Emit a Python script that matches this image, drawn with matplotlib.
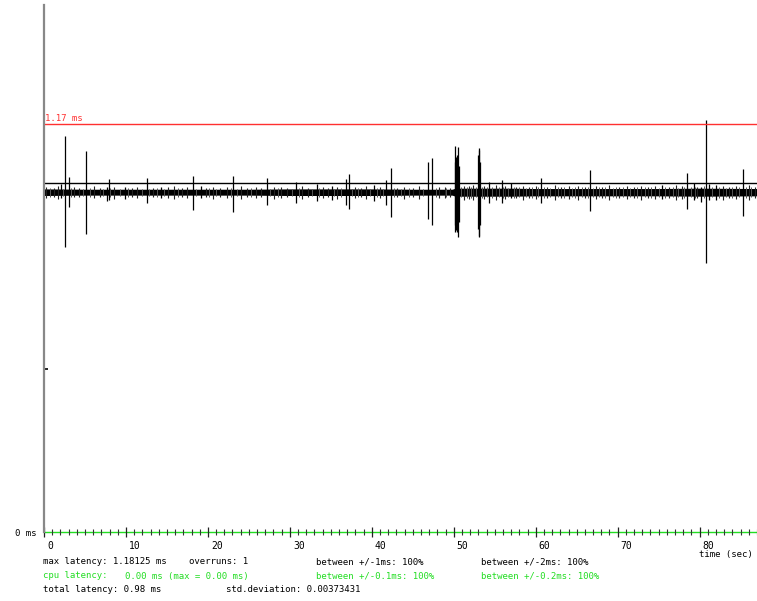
import matplotlib
matplotlib.use("Agg")
import matplotlib.pyplot as plt
import matplotlib.transforms as mtransforms

# latency trace, times in seconds, latencies in ms
band_t = [0, 5, 10, 15, 20, 25, 30, 35, 40, 45, 49.8, 50.2, 57, 60, 65, 70, 75, 80, 87]
band_hi = [0.984, 0.983, 0.983, 0.983, 0.983, 0.983, 0.984, 0.984, 0.984, 0.983,
           0.983, 0.986, 0.986, 0.985, 0.985, 0.985, 0.985, 0.986, 0.985]
band_lo = [0.965, 0.966, 0.966, 0.966, 0.966, 0.966, 0.965, 0.965, 0.965, 0.966,
           0.966, 0.963, 0.963, 0.964, 0.964, 0.964, 0.964, 0.963, 0.964]

# short excursions around the baseline
hair_t = [0.3, 1.2, 1.7, 3.6, 4.3, 6.1, 6.8, 8.6, 10.7, 11.4, 13.3, 15.1, 15.9,
          16.8, 17.4, 19.8, 20.6, 21.5, 22.3, 24.0, 24.8, 25.9, 26.5, 28.1,
          28.9, 29.6, 31.5, 32.2, 34.0, 34.6, 35.8, 37.9, 38.7, 39.3, 41.0,
          43.1, 43.9, 45.0, 45.8, 48.2, 48.9, 49.5, 51.3, 51.9, 52.4, 53.7,
          55.1, 56.3, 57.6, 58.4, 59.2, 60.0, 61.4, 62.3, 63.1, 64.0, 65.2,
          66.0, 67.3, 68.1, 69.0, 70.2, 71.1, 72.0, 72.9, 73.7, 74.6, 76.3,
          77.1, 77.8, 79.7, 82.8, 83.6, 84.4, 86.0, 86.7]
hair_hi = [0.990, 0.987, 0.992, 0.988, 0.986, 0.991, 0.987, 0.989, 0.986, 0.990,
           0.987, 0.988, 0.992, 0.986, 0.989, 0.987, 0.990, 0.986, 0.988, 0.991,
           0.987, 0.989, 0.986, 0.990, 0.988, 0.987, 0.991, 0.986, 0.989, 0.987,
           0.990, 0.988, 0.986, 0.991, 0.988, 0.987, 0.990, 0.986, 0.992, 0.988,
           0.990, 0.987, 0.993, 0.991, 0.994, 0.992, 0.995, 0.991, 0.990, 0.993,
           0.989, 0.992, 0.990, 0.994, 0.989, 0.991, 0.993, 0.990, 0.992, 0.989,
           0.994, 0.990, 0.992, 0.989, 0.993, 0.990, 0.992, 0.989, 0.994, 0.991,
           0.990, 0.993, 0.989, 0.992, 0.994, 0.990]
hair_lo = [0.958, 0.961, 0.955, 0.960, 0.962, 0.957, 0.960, 0.956, 0.961, 0.958,
           0.960, 0.957, 0.955, 0.961, 0.958, 0.960, 0.956, 0.962, 0.959, 0.955,
           0.960, 0.957, 0.961, 0.956, 0.959, 0.960, 0.955, 0.961, 0.957, 0.960,
           0.956, 0.959, 0.961, 0.955, 0.958, 0.960, 0.956, 0.961, 0.954, 0.958,
           0.957, 0.960, 0.953, 0.956, 0.952, 0.955, 0.951, 0.956, 0.957, 0.953,
           0.958, 0.955, 0.957, 0.952, 0.958, 0.956, 0.953, 0.957, 0.954, 0.958,
           0.952, 0.957, 0.955, 0.958, 0.953, 0.957, 0.955, 0.958, 0.952, 0.956,
           0.957, 0.953, 0.958, 0.955, 0.952, 0.957]

# finer jitter, drawn lighter
fuzz_t = [0.7, 2.3, 3.3, 4.8, 5.6, 7.2, 8.1, 9.3, 10.2, 11.9, 12.8, 13.8, 14.7,
          16.3, 18.6, 20.1, 21.0, 22.8, 23.5, 25.3, 27.6, 28.5, 30.3, 31.1,
          32.7, 33.6, 35.4, 36.3, 37.6, 38.3, 39.8, 40.6, 41.4, 42.7, 43.5,
          44.5, 46.3, 47.8, 49.1, 50.9, 51.6, 52.1, 52.7, 53.5, 54.0, 54.7,
          55.5, 56.0, 56.6, 57.3, 58.0, 58.8, 59.6, 60.3, 61.0, 61.8, 62.7,
          63.5, 64.4, 64.8, 65.6, 66.4, 67.0, 67.7, 68.5, 69.4, 69.8, 70.6,
          71.5, 72.4, 73.3, 74.1, 75.0, 75.8, 76.7, 77.4, 78.1, 78.9, 79.4,
          80.5, 81.5, 82.4, 83.2, 84.0, 84.8, 85.6, 86.3]
fuzz_hi = [0.986, 0.985, 0.987, 0.985, 0.986, 0.984, 0.986, 0.985, 0.987, 0.985,
           0.984, 0.986, 0.985, 0.987, 0.985, 0.986, 0.984, 0.986, 0.985, 0.987,
           0.985, 0.986, 0.984, 0.986, 0.985, 0.987, 0.985, 0.986, 0.984, 0.986,
           0.985, 0.987, 0.985, 0.986, 0.984, 0.986, 0.985, 0.987, 0.986, 0.988,
           0.990, 0.989, 0.988, 0.990, 0.988, 0.989, 0.988, 0.990, 0.987, 0.989,
           0.988, 0.987, 0.989, 0.988, 0.990, 0.987, 0.988, 0.989, 0.987, 0.990,
           0.988, 0.989, 0.987, 0.988, 0.990, 0.987, 0.989, 0.988, 0.987, 0.989,
           0.988, 0.990, 0.987, 0.989, 0.988, 0.987, 0.990, 0.988, 0.989, 0.991,
           0.988, 0.989, 0.987, 0.990, 0.988, 0.989, 0.988]
fuzz_lo = [0.962, 0.963, 0.961, 0.963, 0.962, 0.964, 0.962, 0.963, 0.961, 0.963,
           0.964, 0.962, 0.963, 0.961, 0.963, 0.962, 0.964, 0.962, 0.963, 0.961,
           0.963, 0.962, 0.964, 0.962, 0.963, 0.961, 0.963, 0.962, 0.964, 0.962,
           0.963, 0.961, 0.963, 0.962, 0.964, 0.962, 0.963, 0.961, 0.962, 0.960,
           0.958, 0.959, 0.960, 0.958, 0.960, 0.959, 0.960, 0.958, 0.961, 0.959,
           0.960, 0.961, 0.959, 0.960, 0.958, 0.961, 0.960, 0.959, 0.961, 0.958,
           0.960, 0.959, 0.961, 0.960, 0.958, 0.961, 0.959, 0.960, 0.961, 0.959,
           0.960, 0.958, 0.961, 0.959, 0.960, 0.961, 0.958, 0.960, 0.959, 0.957,
           0.960, 0.959, 0.961, 0.958, 0.960, 0.959, 0.960]

# larger latency spikes
spike_t = [2.04, 2.56, 3.01, 5.09, 7.65, 7.93, 9.88, 12.52, 14.27, 18.13, 19.15,
           23.09, 27.23, 30.77, 33.33, 35.16, 36.83, 37.23, 40.24, 41.79, 42.32,
           46.91, 47.35, 50.15, 50.21, 50.28, 50.35, 50.42, 50.52, 50.58,
           52.98, 53.05, 53.12, 53.2, 54.35, 55.94, 56.99, 60.6, 66.59, 75.45,
           78.45, 79.27, 80.2, 80.82, 81.13, 82.04, 85.24]
spike_hi = [0.998, 1.136, 1.019, 1.093, 0.990, 1.013, 0.988, 1.016, 0.990, 1.021,
            0.993, 1.022, 1.016, 1.004, 0.998, 0.993, 1.013, 1.027, 0.996, 1.010,
            1.045, 1.061, 1.072, 1.060, 1.107, 1.076, 1.070, 1.080, 1.103, 1.050,
            1.080, 1.100, 1.095, 1.060, 1.005, 1.009, 1.001, 1.016, 1.038, 0.996,
            1.030, 1.001, 0.990, 1.18125, 0.998, 0.995, 1.041]
spike_lo = [0.958, 0.817, 0.932, 0.855, 0.950, 0.951, 0.955, 0.943, 0.958, 0.923,
            0.958, 0.917, 0.937, 0.944, 0.949, 0.952, 0.939, 0.925, 0.950, 0.938,
            0.904, 0.897, 0.881, 0.880, 0.861, 0.866, 0.870, 0.860, 0.845, 0.890,
            0.870, 0.848, 0.847, 0.880, 0.943, 0.944, 0.958, 0.943, 0.921, 0.955,
            0.925, 0.952, 0.947, 0.771, 0.952, 0.952, 0.907]

max_line = 1.17
ref_line = 1.0
y_marks = [0.4675]

GREEN = "#22dd22"
RED = "#ff3030"
MONO = "DejaVu Sans Mono"
FS = 6.5

fig = plt.figure(figsize=(7.57, 6.01), dpi=100)
ax = fig.add_axes([44 / 757, 69 / 601, 713 / 757, 527 / 601])
ax.set_xlim(0, 713 / 8.2)
ax.set_ylim(0, 527 / 348.7)

ax.fill_between(band_t, band_lo, band_hi, color="black", lw=0)
ax.vlines(fuzz_t, fuzz_lo, fuzz_hi, color="#555555", lw=0.7)
ax.vlines(hair_t, hair_lo, hair_hi, color="#222222", lw=0.8)
ax.vlines(spike_t, spike_lo, spike_hi, color="black", lw=0.9)

ax.axhline(ref_line, color="black", lw=1.0)
ax.axhline(max_line, color=RED, lw=1.0)
ax.text(0.1, max_line + 0.003, "1.17 ms", color=RED, fontsize=FS,
        family=MONO, va="bottom", ha="left")

for s in ("top", "right"):
    ax.spines[s].set_visible(False)
ax.spines["left"].set_color("#888888")
ax.spines["left"].set_linewidth(1.6)
ax.spines["bottom"].set_color(GREEN)
ax.spines["bottom"].set_linewidth(1.0)
ax.spines["bottom"].set_zorder(1)

ax.set_xticks(range(0, 90, 10))
ax.set_xticks(range(0, 88), minor=True)
ax.tick_params(axis="x", which="major", direction="inout", length=7,
               width=0.9, color="#222222", labelbottom=False)
ax.tick_params(axis="x", which="minor", direction="inout", length=4,
               width=0.8, color="#333333")
ax.set_yticks(y_marks)
ax.tick_params(axis="y", direction="in", length=3, width=1.2,
               color="black", labelleft=False)

label_tf = mtransforms.offset_copy(ax.get_xaxis_transform(), fig=fig,
                                   x=3, y=-14, units="dots")
for t in range(0, 90, 10):
    ax.text(t, 0, str(t), transform=label_tf, fontsize=FS + 0.5,
            family=MONO, ha="left", va="center")


def px(x, y):
    return x / 757, 1 - y / 601


fig.text(*px(15, 533), "0 ms", fontsize=FS, family=MONO, va="center")
fig.text(*px(699, 554), "time (sec)", fontsize=FS, family=MONO, va="center")

rows = [
    (43, 562, "max latency: 1.18125 ms", "black"),
    (189, 562, "overruns: 1", "black"),
    (316, 562, "between +/-1ms: 100%", "black"),
    (481, 562, "between +/-2ms: 100%", "black"),
    (43, 576, "cpu latency:", GREEN),
    (125, 576, "0.00 ms (max = 0.00 ms)", GREEN),
    (316, 576, "between +/-0.1ms: 100%", GREEN),
    (481, 576, "between +/-0.2ms: 100%", GREEN),
    (43, 590, "total latency: 0.98 ms", "black"),
    (226, 590, "std.deviation: 0.00373431", "black"),
]
for x, y, s, c in rows:
    fig.text(*px(x, y), s, color=c, fontsize=FS, family=MONO, va="center")

fig.savefig("out.png", dpi=100)
